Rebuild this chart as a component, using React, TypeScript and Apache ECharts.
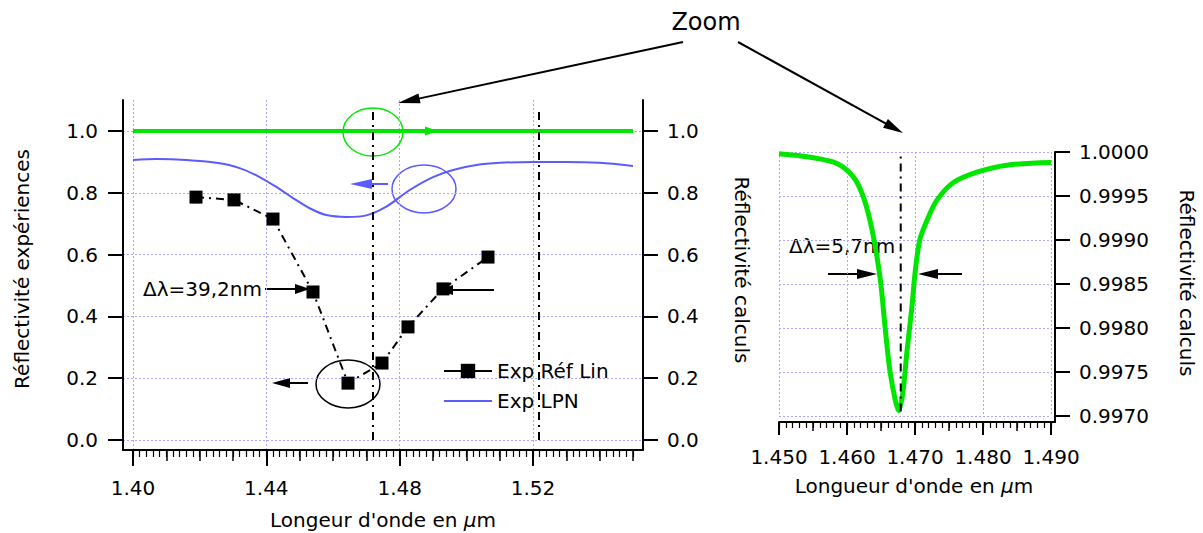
import { useEffect, useRef } from 'react';
import * as echarts from 'echarts';

// ---- Data ----
const expLinX = [1.4189, 1.4303, 1.442, 1.454, 1.4645, 1.4747, 1.4825, 1.493, 1.5065];
const expLinY = [0.786, 0.777, 0.715, 0.479, 0.184, 0.249, 0.366, 0.489, 0.592];

const lpnX = [1.4, 1.407, 1.416, 1.425, 1.432, 1.438, 1.443, 1.448, 1.453, 1.458, 1.464, 1.47, 1.476, 1.483, 1.49, 1.496, 1.503, 1.51, 1.52, 1.53, 1.54, 1.55];
const lpnY = [0.906, 0.909, 0.906, 0.897, 0.88, 0.851, 0.819, 0.783, 0.75, 0.728, 0.722, 0.727, 0.755, 0.809, 0.851, 0.874, 0.89, 0.897, 0.9, 0.9, 0.897, 0.887];

const calcFlatX = [1.4, 1.55];
const calcFlatY = [1.0, 1.0];

const zoomX = [1.45, 1.4546, 1.4585, 1.4609, 1.4624, 1.4637, 1.4649, 1.4656, 1.4663, 1.4671, 1.4676, 1.4682, 1.4688, 1.4696, 1.47, 1.4707, 1.4718, 1.4732, 1.4756, 1.4791, 1.4835, 1.49];
const zoomY = [0.99998, 0.99994, 0.99987, 0.99972, 0.99949, 0.99911, 0.99855, 0.99801, 0.99752, 0.99718, 0.99706, 0.99726, 0.99772, 0.99828, 0.99862, 0.999, 0.99923, 0.99945, 0.99965, 0.99977, 0.99985, 0.99988];

const markLeftX = [1.472, 1.5218];
const markLeftY = [0, 1.074];
const markRightX = 1.4679;
const markRightY = [0.99705, 1.0];

const xTicksLeft = [1.4, 1.44, 1.48, 1.52];

const legendNames = ['Exp Réf Lin', 'Exp LPN'];

// ---- Styles ----
const FONT = 'DejaVu Sans';
const GRID_COLOR = '#a8a8ff';
const GREEN = '#00e600';
const BLUE = '#5b5bff';
const DASHDOT = [8, 5, 2, 5];

const pairs = (xs: number[], ys: number[]) => xs.map((x, i) => [x, ys[i]]);

function arrow(x1: number, y1: number, x2: number, y2: number, color: string, head = 15, half = 5, lw = 2) {
  const dx = x2 - x1, dy = y2 - y1;
  const L = Math.hypot(dx, dy);
  const ux = dx / L, uy = dy / L;
  const bx = x2 - ux * head, by = y2 - uy * head;
  const px = -uy, py = ux;
  return [
    { type: 'line', silent: true, shape: { x1, y1, x2: bx + ux, y2: by + uy }, style: { stroke: color, lineWidth: lw } },
    { type: 'polygon', silent: true, shape: { points: [[x2, y2], [bx + px * half, by + py * half], [bx - px * half, by - py * half]] }, style: { fill: color } },
  ];
}

function txt(text: string, x: number, y: number, size = 20, rotation = 0, align = 'center') {
  return {
    type: 'text', x, y, rotation, silent: true,
    style: { text, fontSize: size, fontFamily: FONT, fill: '#000', align, verticalAlign: 'middle' },
  };
}

function richTitle(prefix: string, x: number, y: number) {
  return {
    type: 'text', x, y, silent: true,
    style: {
      text: `{a|${prefix}}{b|μ}{a|m}`,
      align: 'center', verticalAlign: 'middle',
      rich: {
        a: { fontSize: 20, fontFamily: FONT, fill: '#000' },
        b: { fontSize: 20, fontFamily: FONT, fontStyle: 'italic', fill: '#000' },
      },
    },
  };
}

const lineOnly = (grid: number, pos: string) => ({
  gridIndex: grid, type: 'value', min: 0, max: 1, position: pos,
  axisLine: { show: true, onZero: false, lineStyle: { color: '#000', width: 2 } },
  axisTick: { show: false }, axisLabel: { show: false }, splitLine: { show: false },
});

const tickAxis = (grid: number, min: number, max: number, interval: number, len: number, w: number, offset = 0) => ({
  gridIndex: grid, type: 'value', min, max, interval, position: 'bottom', offset,
  axisLine: { show: false, onZero: false },
  axisTick: { show: true, length: len, lineStyle: { color: '#000', width: w } },
  axisLabel: { show: false }, splitLine: { show: false },
});

const labelStyle = { fontSize: 20, fontFamily: FONT, color: '#000' };
const gridLine = { show: true, lineStyle: { color: GRID_COLOR, type: [2, 2], width: 1 } };

export default function App() {
  const ref = useRef<HTMLDivElement>(null);
  useEffect(() => {
    if (!ref.current) return;
    const chart = echarts.init(ref.current, null, { renderer: 'svg' });
    const option: any = {
      animation: false,
      backgroundColor: '#fff',
      textStyle: { fontFamily: FONT },
      grid: [
        { left: 123, top: 100, width: 520, height: 350 }, // 0 left frame
        { left: 133, top: 100, width: 500, height: 350 }, // 1 left data
        { left: 123, top: 131, width: 520, height: 309 }, // 2 left y ticks
        { left: 779, top: 152, width: 276, height: 270 }, // 3 right frame
        { left: 779, top: 152, width: 272, height: 264 }, // 4 right data
      ],
      xAxis: [
        lineOnly(0, 'bottom'),
        {
          gridIndex: 1, type: 'value', min: 1.4, max: 1.55, position: 'bottom',
          axisLine: { show: false, onZero: false },
          axisTick: { show: true, length: 16, lineStyle: { color: '#000', width: 2 }, customValues: xTicksLeft },
          axisLabel: { show: true, customValues: xTicksLeft, margin: 28, formatter: (v: number) => v.toFixed(2), ...labelStyle },
          splitLine: gridLine,
        },
        tickAxis(1, 1.4, 1.55, 0.01, 11, 1.5),
        tickAxis(1, 1.4, 1.55, 0.002, 7, 1.2),
        { gridIndex: 2, type: 'value', min: 0, max: 1, show: false },
        lineOnly(3, 'bottom'),
        {
          gridIndex: 4, type: 'value', min: 1.45, max: 1.49, interval: 0.01, position: 'bottom', offset: 6,
          axisLine: { show: false, onZero: false },
          axisTick: { show: true, length: 13, lineStyle: { color: '#000', width: 2 } },
          axisLabel: { show: true, margin: 25, formatter: (v: number) => v.toFixed(3), ...labelStyle },
          splitLine: gridLine,
        },
        tickAxis(4, 1.45, 1.49, 0.005, 9, 1.5, 6),
        tickAxis(4, 1.45, 1.49, 0.001, 6, 1.2, 6),
      ],
      yAxis: [
        lineOnly(0, 'left'),
        lineOnly(0, 'right'),
        { gridIndex: 1, type: 'value', min: -10 / 309, max: 1 + 31 / 309, show: false, axisLine: { onZero: false } },
        {
          gridIndex: 2, type: 'value', min: 0, max: 1, interval: 0.2, position: 'left',
          axisLine: { show: false, onZero: false },
          axisTick: { show: true, length: 15, lineStyle: { color: '#000', width: 2 } },
          axisLabel: { margin: 25, formatter: (v: number) => v.toFixed(1), ...labelStyle },
          splitLine: gridLine,
        },
        {
          gridIndex: 2, type: 'value', min: 0, max: 1, interval: 0.2, position: 'right',
          axisLine: { show: false, onZero: false },
          axisTick: { show: true, length: 15, lineStyle: { color: '#000', width: 2 } },
          axisLabel: { margin: 24, formatter: (v: number) => v.toFixed(1), ...labelStyle },
          splitLine: { show: false },
        },
        lineOnly(3, 'right'),
        {
          gridIndex: 4, type: 'value', min: 0.997, max: 1.0, interval: 0.0005, position: 'right', offset: 4,
          axisLine: { show: false, onZero: false },
          axisTick: { show: true, length: 15, lineStyle: { color: '#000', width: 2 } },
          axisLabel: { margin: 24, formatter: (v: number) => v.toFixed(4), ...labelStyle },
          splitLine: gridLine,
        },
      ],
      legend: {
        data: [
          { name: legendNames[0], lineStyle: { type: 'solid' } },
          { name: legendNames[1], itemStyle: { opacity: 0 } },
        ],
        orient: 'vertical', left: 438, top: 356, itemWidth: 48, itemHeight: 18, itemGap: 10,
        selectedMode: false,
        textStyle: { fontSize: 20, fontFamily: FONT, color: '#000' },
      },
      series: [
        {
          name: 'Calc', type: 'line', xAxisIndex: 1, yAxisIndex: 2, data: pairs(calcFlatX, calcFlatY),
          symbol: 'none', lineStyle: { color: GREEN, width: 4 }, itemStyle: { color: GREEN }, z: 2,
        },
        {
          name: legendNames[1], type: 'line', xAxisIndex: 1, yAxisIndex: 2, data: pairs(lpnX, lpnY),
          symbol: 'none', smooth: 0.3, lineStyle: { color: BLUE, width: 2 }, itemStyle: { color: BLUE }, z: 2,
        },
        {
          name: legendNames[0], type: 'line', xAxisIndex: 1, yAxisIndex: 2, data: pairs(expLinX, expLinY),
          symbol: 'rect', symbolSize: 13, itemStyle: { color: '#000' },
          lineStyle: { color: '#000', width: 2, type: DASHDOT }, z: 4,
        },
        ...markLeftX.map((x) => ({
          type: 'line', xAxisIndex: 1, yAxisIndex: 2, data: markLeftY.map((y) => [x, y]),
          symbol: 'none', lineStyle: { color: '#000', width: 2, type: DASHDOT }, z: 3,
        })),
        {
          name: 'Zoom calc', type: 'line', xAxisIndex: 6, yAxisIndex: 6, data: pairs(zoomX, zoomY),
          symbol: 'none', smooth: 0.3, lineStyle: { color: GREEN, width: 5 }, itemStyle: { color: GREEN }, z: 2,
        },
        {
          type: 'line', xAxisIndex: 6, yAxisIndex: 6, data: markRightY.map((y) => [markRightX, y]),
          symbol: 'none', lineStyle: { color: '#000', width: 2, type: DASHDOT }, z: 3,
        },
      ],
      graphic: [
        // titles
        txt('Zoom', 706, 22, 24),
        txt('Réflectivité expériences', 22, 269, 20, Math.PI / 2),
        txt('Réflectivité calculs', 742, 270, 20, -Math.PI / 2),
        txt('Réflectivité calculs', 1187, 283, 20, -Math.PI / 2),
        richTitle("Longeur d'onde en ", 383, 520),
        richTitle("Longueur d'onde en ", 914, 486),
        // delta lambda annotations
        txt('Δλ=39,2nm', 143, 289, 20, 0, 'left'),
        txt('Δλ=5,7nm', 789, 246, 20, 0, 'left'),
        ...arrow(265, 289, 310, 289, '#000'),
        ...arrow(494, 290, 438, 290, '#000'),
        ...arrow(828, 274, 877, 274, '#000', 20),
        ...arrow(962, 274, 918, 274, '#000', 20),
        // zoom arrows
        ...arrow(683, 42, 398, 103, '#000', 22, 5),
        ...arrow(738, 42, 903, 133, '#000', 20, 5),
        // ellipses and their arrows
        { type: 'ellipse', silent: true, shape: { cx: 373, cy: 132, rx: 30, ry: 24 }, style: { fill: 'none', stroke: GREEN, lineWidth: 1.5 } },
        { type: 'ellipse', silent: true, shape: { cx: 424, cy: 189, rx: 32, ry: 24 }, style: { fill: 'none', stroke: BLUE, lineWidth: 1.5 } },
        { type: 'ellipse', silent: true, shape: { cx: 348, cy: 384, rx: 32, ry: 24 }, style: { fill: 'none', stroke: '#000', lineWidth: 1.5 } },
        ...arrow(420, 131, 438, 131, GREEN, 13, 4.5),
        ...arrow(388, 184, 350, 184, BLUE, 22, 5),
        ...arrow(308, 383, 272, 383, '#000', 18, 5),
      ],
    };
    chart.setOption(option);
    return () => chart.dispose();
  }, []);
  return <div ref={ref} style={{ position: 'absolute', left: 0, top: 0, width: 1203, height: 533, background: '#fff' }} />;
}
